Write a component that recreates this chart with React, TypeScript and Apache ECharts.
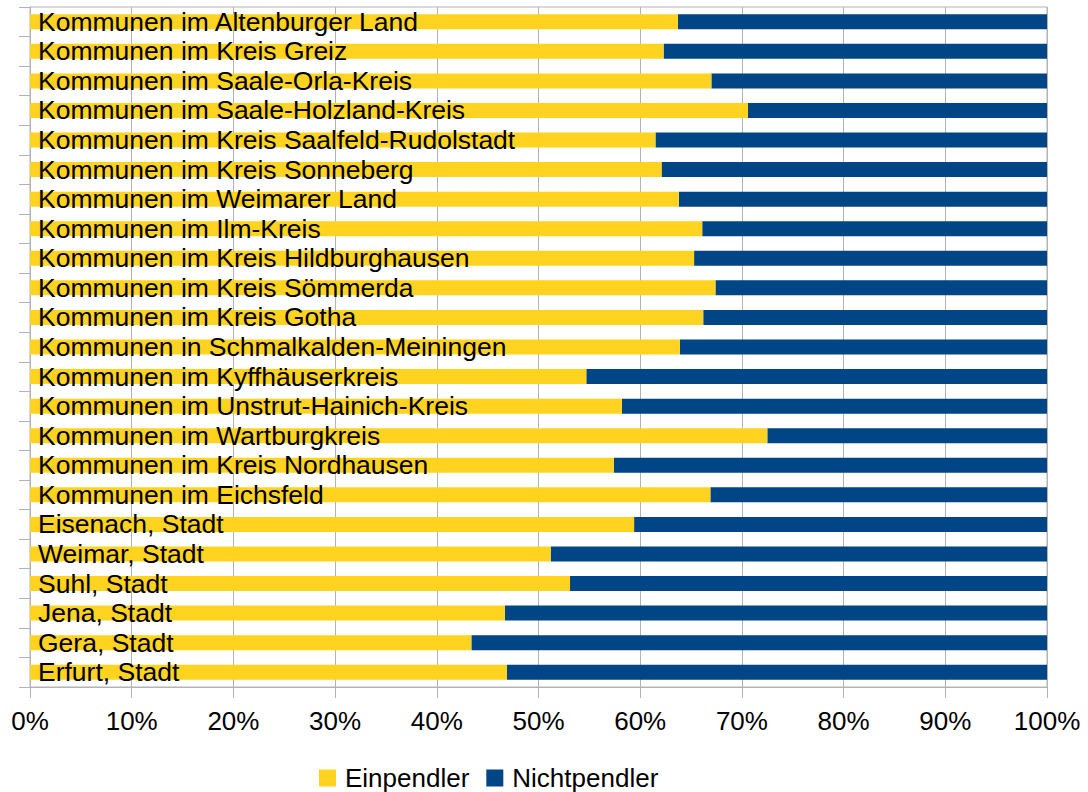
import React, { useEffect, useRef } from "react";
import * as echarts from "echarts";

const categories = [
  "Kommunen im Altenburger Land",
  "Kommunen im Kreis Greiz",
  "Kommunen im Saale-Orla-Kreis",
  "Kommunen im Saale-Holzland-Kreis",
  "Kommunen im Kreis Saalfeld-Rudolstadt",
  "Kommunen im Kreis Sonneberg",
  "Kommunen im Weimarer Land",
  "Kommunen im Ilm-Kreis",
  "Kommunen im Kreis Hildburghausen",
  "Kommunen im Kreis Sömmerda",
  "Kommunen im Kreis Gotha",
  "Kommunen in Schmalkalden-Meiningen",
  "Kommunen im Kyffhäuserkreis",
  "Kommunen im Unstrut-Hainich-Kreis",
  "Kommunen im Wartburgkreis",
  "Kommunen im Kreis Nordhausen",
  "Kommunen im Eichsfeld",
  "Eisenach, Stadt",
  "Weimar, Stadt",
  "Suhl, Stadt",
  "Jena, Stadt",
  "Gera, Stadt",
  "Erfurt, Stadt",
];

const einpendler = [
  63.7, 62.3, 67.0, 70.6, 61.5, 62.1, 63.8, 66.1, 65.3, 67.4, 66.2, 63.9,
  54.7, 58.2, 72.5, 57.4, 66.9, 59.4, 51.2, 53.1, 46.7, 43.4, 46.9,
];

const nichtpendler = [
  36.3, 37.7, 33.0, 29.4, 38.5, 37.9, 36.2, 33.9, 34.7, 32.6, 33.8, 36.1,
  45.3, 41.8, 27.5, 42.6, 33.1, 40.6, 48.8, 46.9, 53.3, 56.6, 53.1,
];

const seriesNames = ["Einpendler", "Nichtpendler"];
const xTicks = { min: 0, max: 100, interval: 10 };

const FONT = "'Liberation Sans', Arial, sans-serif";
const GRID_COLOR = "#b3b3b3";

export default function App() {
  const ref = useRef<HTMLDivElement>(null);

  useEffect(() => {
    if (!ref.current) return;
    const chart = echarts.init(ref.current, undefined, { renderer: "svg" });
    chart.setOption({
      animation: false,
      backgroundColor: "#ffffff",
      textStyle: { fontFamily: FONT, color: "#000" },
      color: ["#ffd320", "#004586"],
      grid: {
        left: 30,
        right: 41,
        top: 7,
        bottom: 105,
        show: true,
        borderColor: GRID_COLOR,
        borderWidth: 1,
        backgroundColor: "transparent",
      },
      legend: {
        left: 319,
        top: 765,
        padding: 0,
        itemWidth: 17,
        itemHeight: 17,
        itemGap: 17,
        icon: "rect",
        textStyle: {
          fontFamily: FONT,
          fontSize: 26,
          lineHeight: 26,
          color: "#000",
          padding: [0, 0, 0, 4],
        },
        data: seriesNames,
      },
      xAxis: {
        type: "value",
        min: xTicks.min,
        max: xTicks.max,
        interval: xTicks.interval,
        axisLine: { show: true, lineStyle: { color: GRID_COLOR, width: 1 } },
        axisTick: { show: true, length: 11, lineStyle: { color: GRID_COLOR } },
        splitLine: { show: true, lineStyle: { color: GRID_COLOR, width: 1 } },
        axisLabel: {
          formatter: "{value}%",
          fontFamily: FONT,
          fontSize: 26,
          color: "#000",
          margin: 21,
        },
      },
      yAxis: {
        type: "category",
        inverse: true,
        data: categories,
        axisLine: { show: true, lineStyle: { color: GRID_COLOR, width: 1 } },
        axisTick: { show: true, length: 11, alignWithLabel: false, lineStyle: { color: GRID_COLOR } },
        axisLabel: { show: false },
        splitLine: { show: false },
      },
      series: [
        {
          name: seriesNames[0],
          type: "bar",
          stack: "total",
          barWidth: 15,
          data: einpendler,
          label: {
            show: true,
            position: "insideLeft",
            distance: 8,
            formatter: "{b}",
            fontFamily: FONT,
            fontSize: 26.5,
            color: "#000",
          },
          z: 3,
        },
        {
          name: seriesNames[1],
          type: "bar",
          stack: "total",
          barWidth: 15,
          data: nichtpendler,
          z: 2,
        },
      ],
    });
    return () => chart.dispose();
  }, []);

  return (
    <div
      ref={ref}
      style={{ position: "fixed", left: 0, top: 0, width: 1088, height: 792 }}
    />
  );
}
